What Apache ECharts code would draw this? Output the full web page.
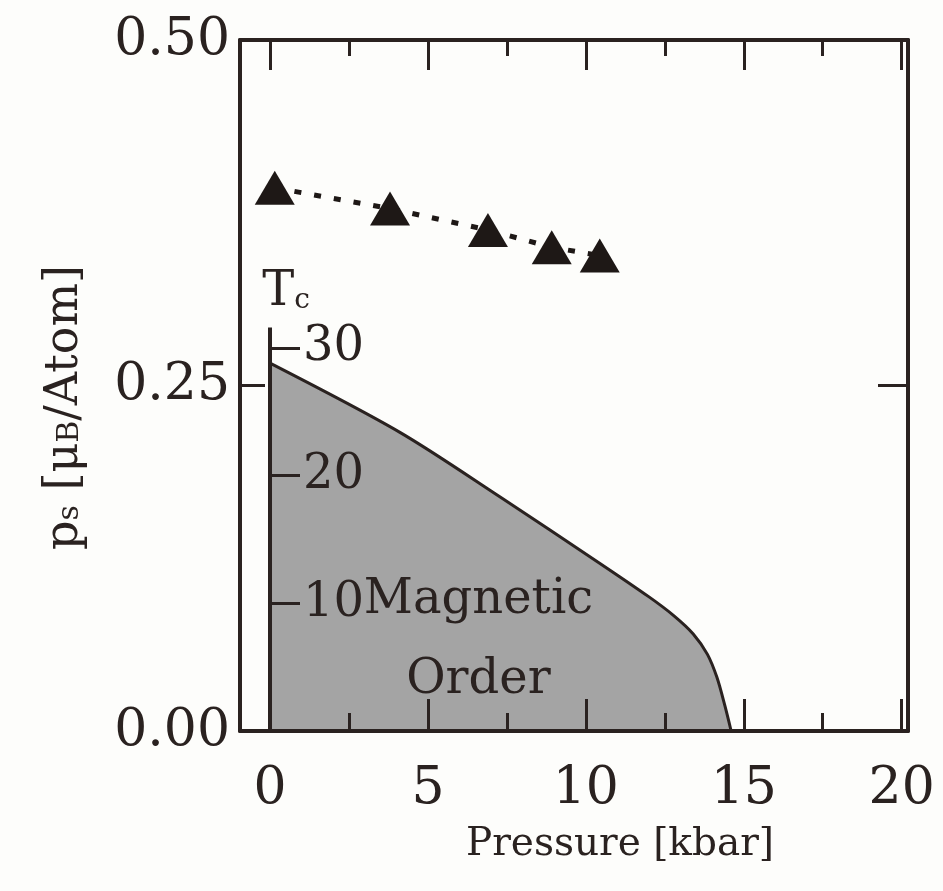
<!DOCTYPE html>
<html>
<head>
<meta charset="utf-8">
<script src="https://cdn.jsdelivr.net/npm/echarts@6/dist/echarts.min.js"></script>
<style>
  html, body { margin: 0; padding: 0; background: #fdfdfb; }
  #chart { width: 943px; height: 891px; }
</style>
</head>
<body>
<div id="chart"></div>
<script>
// saturated moment p_s vs pressure (triangles)
const psPressure = [0.15, 3.8, 6.9, 8.92, 10.44];
const psMoment = [0.393, 0.378, 0.3625, 0.35, 0.344];

// Tc boundary of the magnetic order region
const tcPressure = [0, 4.1, 7.3, 10.4, 12.0, 12.8, 13.4, 13.85, 14.15, 14.4, 14.6];
const tcTemp = [28.8, 23.4, 18.3, 13.2, 10.5, 9.0, 7.6, 6.0, 4.2, 2.0, 0];
const tcAxisTop = 31.6;

const xMajor = [0, 5, 10, 15, 20];
const xMinor = [2.5, 7.5, 12.5, 17.5];
const tTicks = [10, 20, 30];

const ink = "#2a2220";
const serif = "DejaVu Serif";

const chart = echarts.init(document.getElementById("chart"));

const frameX = (pos, vals, len, showLine, showLabel) => ({
  type: "value",
  position: pos,
  min: -0.95,
  max: 20.2,
  z: 10,
  axisLine: { show: showLine, onZero: false, lineStyle: { color: ink, width: 4 } },
  axisTick: { show: true, inside: true, length: len, customValues: vals, lineStyle: { color: ink, width: 3 } },
  axisLabel: {
    show: showLabel,
    customValues: xMajor,
    margin: 32,
    fontFamily: serif,
    fontSize: 52,
    color: ink,
  },
  splitLine: { show: false },
});

const xAxes = [
  Object.assign(frameX("bottom", xMajor, 32, true, true), {
    name: "Pressure [kbar]",
    nameLocation: "middle",
    nameGap: 94,
    nameTextStyle: { fontFamily: serif, fontSize: 39, color: ink, padding: [0, 0, 0, 92] },
  }),
  frameX("bottom", xMinor, 18, false, false),
  frameX("top", xMajor, 30, true, false),
  frameX("top", xMinor, 16, false, false),
];

const options = {
  backgroundColor: "#fdfdfb",
  animation: false,
  grid: { left: 240, right: 35, top: 40, bottom: 160 },
  xAxis: xAxes,
  yAxis: [
    {
      type: "value",
      position: "left",
      min: 0,
      max: 0.5,
      interval: 0.25,
      z: 10,
      name: "{a|p}{s|s}{a| [μ}{s|B}{a|/Atom]}",
      nameLocation: "middle",
      nameGap: 142,
      nameTextStyle: {
        padding: [0, 44, 0, 0],
        rich: {
          a: { fontFamily: serif, fontSize: 46, color: ink, padding: [0, 0, 10, 0] },
          s: { fontFamily: serif, fontSize: 30, color: ink },
        },
      },
      axisLine: { show: true, onZero: false, lineStyle: { color: ink, width: 4 } },
      axisTick: { inside: true, length: 25, lineStyle: { color: ink, width: 3 } },
      axisLabel: {
        margin: 10,
        fontFamily: serif,
        fontSize: 52,
        color: ink,
        formatter: (v) => v.toFixed(2),
      },
      splitLine: { show: false },
    },
    {
      type: "value",
      position: "right",
      min: 0,
      max: 0.5,
      interval: 0.25,
      z: 10,
      axisLine: { show: true, onZero: false, lineStyle: { color: ink, width: 4 } },
      axisTick: { inside: true, length: 30, lineStyle: { color: ink, width: 3 } },
      axisLabel: { show: false },
      splitLine: { show: false },
    },
    {
      // inner Tc axis sitting on p = 0
      type: "value",
      position: "left",
      offset: -30,
      min: 0,
      max: 54.1,
      z: 10,
      axisLine: { show: false, onZero: false },
      axisTick: { inside: true, length: 30, customValues: tTicks, lineStyle: { color: ink, width: 3 } },
      axisLabel: {
        inside: true,
        customValues: tTicks,
        margin: 33,
        fontFamily: serif,
        fontSize: 48,
        color: ink,
      },
      splitLine: { show: false },
    },
  ],
  series: [
    {
      name: "Tc",
      type: "line",
      xAxisIndex: 0,
      yAxisIndex: 2,
      data: tcPressure.map((p, i) => [p, tcTemp[i]]),
      smooth: 0.3,
      symbol: "none",
      lineStyle: { color: ink, width: 3 },
      areaStyle: { color: "#a4a4a4", opacity: 1 },
      z: 2,
    },
    {
      name: "Tc axis",
      type: "line",
      xAxisIndex: 0,
      yAxisIndex: 2,
      data: [[0, 0], [0, tcAxisTop]],
      symbol: "none",
      lineStyle: { color: ink, width: 4 },
      z: 3,
    },
    {
      name: "labels",
      type: "scatter",
      xAxisIndex: 0,
      yAxisIndex: 2,
      symbolSize: 0,
      itemStyle: { opacity: 1 },
      data: [
        {
          value: [0, tcAxisTop],
          label: {
            show: true,
            position: "top",
            offset: [16, 10],
            formatter: "{t|T}{c|c}",
            rich: {
              t: { fontFamily: serif, fontSize: 48, color: ink, padding: [0, 0, 16, 0] },
              c: { fontFamily: serif, fontSize: 28, color: ink },
            },
          },
        },
        {
          value: [6.6, 7.1],
          label: {
            show: true,
            position: "inside",
            formatter: "Magnetic\nOrder",
            fontFamily: serif,
            fontSize: 48,
            lineHeight: 80,
            color: ink,
          },
        },
      ],
      z: 4,
    },
    {
      name: "p_s",
      type: "line",
      xAxisIndex: 0,
      yAxisIndex: 0,
      data: psPressure.map((p, i) => [p, psMoment[i]]),
      symbol: "triangle",
      symbolSize: [40, 34],
      itemStyle: { color: "#1e1816" },
      lineStyle: { color: "#1e1816", width: 5, type: [7, 13] },
      z: 5,
    },
  ],
};

chart.setOption(options);
</script>
</body>
</html>
